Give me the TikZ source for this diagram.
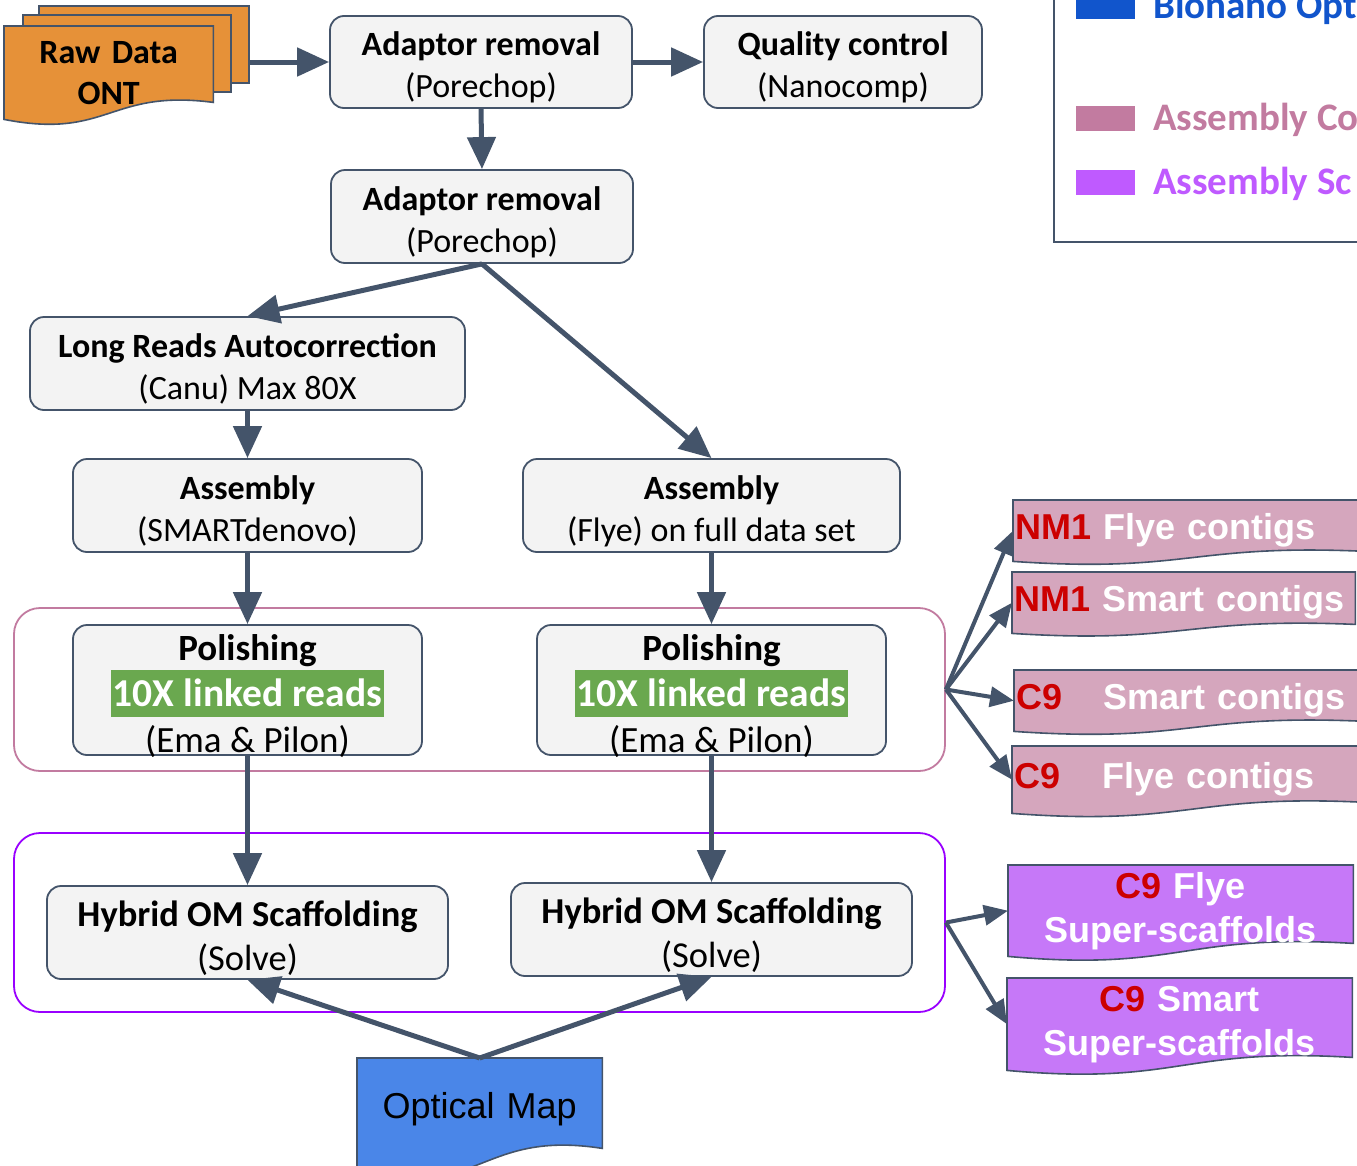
\documentclass[tikz,border=0pt]{standalone}
\usepackage{fontspec}
\setmainfont{Carlito}
\newfontfamily\arialf{Liberation Sans}
\usetikzlibrary{arrows.meta,calc}
\definecolor{lineclr}{HTML}{44546A}
\definecolor{boxfill}{HTML}{F3F3F3}
\definecolor{rawfill}{HTML}{E69138}
\definecolor{pinkdoc}{HTML}{D5A6BD}
\definecolor{purpdoc}{HTML}{C678F8}
\definecolor{pinkline}{HTML}{C27BA0}
\definecolor{purpline}{HTML}{9900FF}
\definecolor{omfill}{HTML}{4A86E8}
\definecolor{greenhl}{HTML}{6AA84F}
\definecolor{redtxt}{HTML}{CC0000}
\definecolor{legblue}{HTML}{1155CC}
\definecolor{legpink}{HTML}{C27BA0}
\definecolor{legpurp}{HTML}{BF5AFF}
\pgfdeclarelayer{background}
\pgfsetlayers{background,main}
\newcommand{\docshape}[3]{%
  \begin{pgfonlayer}{background}
  \filldraw[fill=#2, draw=lineclr, line width=1.6pt]
    let \p1=(#1.north west), \p2=(#1.south east) in
    (\x1,\y1) -- (\x2,\y1) -- (\x2,{\y2+#3pt})
    .. controls ({0.5*\x1+0.5*\x2},{\y2+1.8*#3pt}) and ({0.5*\x1+0.5*\x2},{\y2-1.2*#3pt}) .. (\x1,\y2) -- cycle;
  \end{pgfonlayer}}
\newcommand{\tup}{\rule{0pt}{1.02em}}
\newcommand{\tupp}{\rule{0pt}{0.9em}}
\newcommand{\nodepth}[1]{\raisebox{0pt}[\height][0pt]{#1}}
\newcommand{\hlgreen}[1]{{\setlength{\fboxsep}{0pt}\colorbox{greenhl}{\rule[-10pt]{0pt}{47pt}\hspace{2pt}\textcolor{white}{\fontsize{39.5}{46}\selectfont\bfseries #1}\hspace{2pt}}}}
\begin{document}
\begin{tikzpicture}[x=1pt,y=-1pt,
  box/.style={draw=lineclr, fill=boxfill, line width=1.8pt, rounded corners=14pt, inner sep=0pt, align=center, font=\fontsize{34}{42}\selectfont},
  polbox/.style={box, font=\fontsize{37}{46}\selectfont},
  hybbox/.style={box, font=\fontsize{36.5}{44}\selectfont},
  grp/.style={line width=1.8pt, rounded corners=26pt, inner sep=0pt},
  sheet/.style={draw=lineclr, fill=rawfill, line width=1.6pt, inner sep=0pt, anchor=north west},
  docnode/.style={draw=none, inner sep=0pt, anchor=north west},
  pdoc/.style={docnode, inner xsep=2pt, align=left, text=white, font=\arialf\bfseries\fontsize{36}{44}\selectfont},
  sdoc/.style={docnode, align=center, text=white, font=\arialf\bfseries\fontsize{36}{44}\selectfont},
  arr/.style={draw=lineclr, line width=5pt, -{Triangle[length=32pt,width=28pt]}},
  farr/.style={draw=lineclr, line width=4pt, -{Triangle[length=24pt,width=20pt]}},
  legrect/.style={inner sep=0pt, minimum width=59pt, minimum height=25pt, anchor=north west},
  legtext/.style={inner sep=0pt, anchor=base west, font=\bfseries\fontsize{39}{44}\selectfont}
]
\useasboundingbox (0,0) rectangle (1357,1165);

% groups
\node[grp, draw=pinkline, minimum width=931pt, minimum height=163pt] (pinkgrp) at (479.5,689.5) {};
\node[grp, draw=purpline, minimum width=931pt, minimum height=179pt] (purpgrp) at (479.5,922.5) {};

% raw data stack
\begin{pgfonlayer}{background}
\node[sheet, minimum width=210pt, minimum height=77pt] (raw3) at (38,5) {};
\node[sheet, minimum width=208pt, minimum height=77pt] (raw2) at (22,14) {};
\end{pgfonlayer}
\node[docnode, text width=209pt, align=center, minimum height=93pt, font=\bfseries\fontsize{34}{41}\selectfont] (raw) at (4,26) {Raw Data\\ONT};
\docshape{raw}{rawfill}{17}

% process boxes
\node[box, minimum width=302pt, minimum height=92pt] (ad1) at (481,62) {\tup\textbf{Adaptor removal}\\(Porechop)};
\node[box, minimum width=278pt, minimum height=92pt] (qc) at (843,62) {\tup\textbf{Quality control}\\(Nanocomp)};
\node[box, minimum width=302pt, minimum height=93pt] (ad2) at (482,216.5) {\tup\textbf{Adaptor removal}\\(Porechop)};
\node[box, minimum width=435pt, minimum height=93pt] (lr) at (247.5,363.5) {\tup\textbf{Long Reads Autocorrection}\\(Canu) Max 80X};
\node[box, minimum width=349pt, minimum height=93pt] (asmL) at (247.5,505.5) {\tup\textbf{Assembly}\\(SMARTdenovo)};
\node[box, minimum width=377pt, minimum height=93pt] (asmR) at (711.5,505.5) {\tup\textbf{Assembly}\\(Flye) on full data set};
\node[polbox, minimum width=349pt, minimum height=130pt] (polL) at (247.5,690) {\tupp\textbf{Polishing}\\\hlgreen{10X linked reads}\\\nodepth{(Ema \& Pilon)}};
\node[polbox, minimum width=349pt, minimum height=130pt] (polR) at (711.5,690) {\tupp\textbf{Polishing}\\\hlgreen{10X linked reads}\\\nodepth{(Ema \& Pilon)}};
\node[hybbox, minimum width=401pt, minimum height=93pt] (hybL) at (247.5,932.5) {\tup\textbf{Hybrid OM Scaffolding}\\(Solve)};
\node[hybbox, minimum width=401pt, minimum height=93pt] (hybR) at (711.5,929.5) {\tup\textbf{Hybrid OM Scaffolding}\\(Solve)};

% optical map
\node[docnode, text width=245pt, align=center, minimum height=114pt, font=\arialf\fontsize{36}{44}\selectfont] (om) at (357,1058) {\raisebox{20pt}{Optical Map}};
\docshape{om}{omfill}{24}

% pink contig docs
\node[pdoc, text width=349pt, minimum height=61pt] (nm1f) at (1013,500) {\textcolor{redtxt}{NM1} Flye contigs};
\docshape{nm1f}{pinkdoc}{10}
\node[pdoc, text width=339pt, minimum height=61pt] (nm1s) at (1012,572) {\textcolor{redtxt}{NM1} Smart contigs};
\docshape{nm1s}{pinkdoc}{9}
\node[pdoc, text width=348pt, minimum height=61pt] (c9s) at (1014,670) {\textcolor{redtxt}{C9}\hspace{29pt} Smart contigs};
\docshape{c9s}{pinkdoc}{10}
\node[pdoc, text width=350pt, minimum height=67pt] (c9f) at (1012,746) {\textcolor{redtxt}{C9}\hspace{30pt} Flye contigs};
\docshape{c9f}{pinkdoc}{11}

% purple scaffold docs
\node[sdoc, text width=345pt, minimum height=91pt] (ssf) at (1008,865) {\textcolor{redtxt}{C9} Flye\\Super-scaffolds};
\docshape{ssf}{purpdoc}{13}
\node[sdoc, text width=345pt, minimum height=92pt] (sss) at (1007,978) {\textcolor{redtxt}{C9} Smart\\Super-scaffolds};
\docshape{sss}{purpdoc}{13}

% legend
\node[draw=lineclr, line width=1.8pt, inner sep=0pt, minimum width=400pt, minimum height=300pt, anchor=south west] (legend) at (1053,243) {};
\node[legrect, fill=legblue, minimum height=45pt, anchor=south west] (lgb) at (1076,19) {};
\node[legtext, text=legblue] (lgbt) at (1153,18) {Bionano Opt};
\node[legrect, fill=legpink] (lgp) at (1076,106) {};
\node[legtext, text=legpink] (lgpt) at (1153,130) {Assembly Co};
\node[legrect, fill=legpurp] (lgs) at (1076,170) {};
\node[legtext, text=legpurp] (lgst) at (1153,194) {Assembly Sc};

% connectors
\draw[arr] (raw3.east |- ad1.west) -- (ad1.west);
\draw[arr] (ad1.east) -- (qc.west);
\draw[arr] (ad1.south) -- (ad2.north);
\draw[arr] (ad2.south) -- (lr.north);
\draw[arr] (ad2.south) -- (asmR.north);
\draw[arr] (lr.south) -- (asmL.north);
\draw[arr] (asmL.south) -- (polL.north);
\draw[arr] (asmR.south) -- (polR.north);
\draw[arr] (polL.south) -- (hybL.north);
\draw[arr] (polR.south) -- (hybR.north);
\draw[arr] (om.north) -- (hybL.south);
\draw[arr] (om.north) -- (hybR.south);
\draw[farr] (pinkgrp.east) -- (nm1f.west);
\draw[farr] (pinkgrp.east) -- (nm1s.west);
\draw[farr] (pinkgrp.east) -- (c9s.west);
\draw[farr] (pinkgrp.east) -- (c9f.west);
\draw[farr] (purpgrp.east) -- (ssf.west);
\draw[farr] (purpgrp.east) -- (sss.west);
\end{tikzpicture}
\end{document}
